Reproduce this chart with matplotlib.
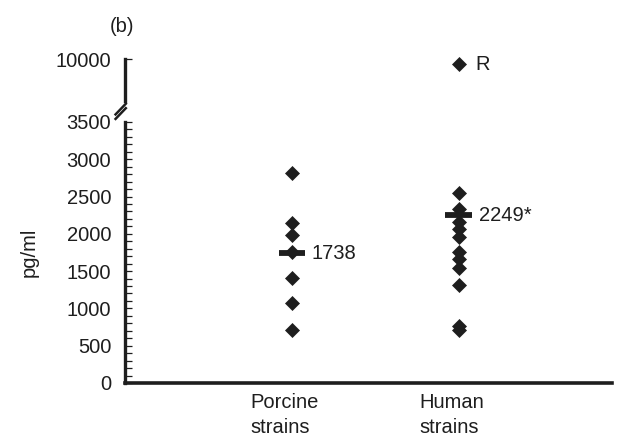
import numpy as np
import matplotlib.pyplot as plt
import matplotlib.transforms as mtransforms
from matplotlib.lines import Line2D
from matplotlib.ticker import MultipleLocator

plt.rcParams['font.family'] = ['Liberation Sans', 'DejaVu Sans']

# data (pg/ml)
groups = ["Porcine\nstrains", "Human\nstrains"]
porcine = [2820, 2140, 1985, 1760, 1412, 1068, 711]
human = [2551, 2333, 2163, 2060, 1962, 1761, 1659, 1538, 1314, 760, 715]
human_outlier = 9930
means = [1738, 2249]
mean_labels = ["1738", "2249*"]

col = '#1e1e1e'
fs = 14.5
fig = plt.figure(figsize=(6.42, 4.47), dpi=100)

# lower part 0..3500
ax = fig.add_axes([0.195, 0.1432, 0.758, 0.584])
# upper part around 10000
ax2 = fig.add_axes([0.195, 0.774, 0.758, 0.094])

xs = [1, 2]
for x, vals in zip(xs, [porcine, human]):
    ax.plot([x] * len(vals), vals, 'D', color=col, ms=7.6, mec=col, mew=0.5,
            clip_on=False, zorder=3)
for x, m, lab in zip(xs, means, mean_labels):
    ax.plot([x - 0.08, x + 0.08], [m, m], color=col, lw=4.2, solid_capstyle='butt', zorder=4)
    ax.text(x + 0.12, m, lab, fontsize=fs, va='center', ha='left', color=col)

ax2.plot([2], [human_outlier], 'D', color=col, ms=7.6, mec=col, mew=0.5, clip_on=False)
ax2.text(2.1, human_outlier, "R", fontsize=fs, va='center', ha='left', color=col)

for a in (ax, ax2):
    a.set_xlim(0, 2.92)
    a.spines['top'].set_visible(False)
    a.spines['right'].set_visible(False)
    a.spines['left'].set_linewidth(2.4)
    a.spines['left'].set_color(col)
    a.tick_params(axis='y', direction='in', length=5, width=0.9, colors=col,
                  labelsize=fs, pad=10)
    a.tick_params(axis='y', which='minor', direction='in', length=5, width=0.9, colors=col)

ax.set_ylim(0, 3500)
ax.yaxis.set_major_locator(MultipleLocator(500))
ax.yaxis.set_minor_locator(MultipleLocator(100))
ax.spines['bottom'].set_linewidth(2.6)
ax.spines['bottom'].set_color(col)
ax.set_xticks(xs)
ax.set_xticklabels(groups, fontsize=fs, multialignment='left', color=col,
                   linespacing=1.4)
ax.tick_params(axis='x', length=0, pad=7)
shift = mtransforms.ScaledTranslation(-7 / 100, 0, fig.dpi_scale_trans)
for t in ax.get_xticklabels():
    t.set_transform(t.get_transform() + shift)
ax.set_ylabel("pg/ml", fontsize=fs, color=col, labelpad=20)

ax2.set_ylim(9440, 10000)
ax2.set_yticks([10000])
ax2.spines['bottom'].set_visible(False)
ax2.set_xticks([])

# break marks
for dy in (0, 0.010):
    fig.add_artist(Line2D([0.180, 0.196], [0.744 - dy, 0.768 - dy], color=col, lw=1.8))

fig.text(0.19, 0.94, "(b)", fontsize=fs, ha='center', va='center', color=col)

plt.savefig("out.png", dpi=100)
